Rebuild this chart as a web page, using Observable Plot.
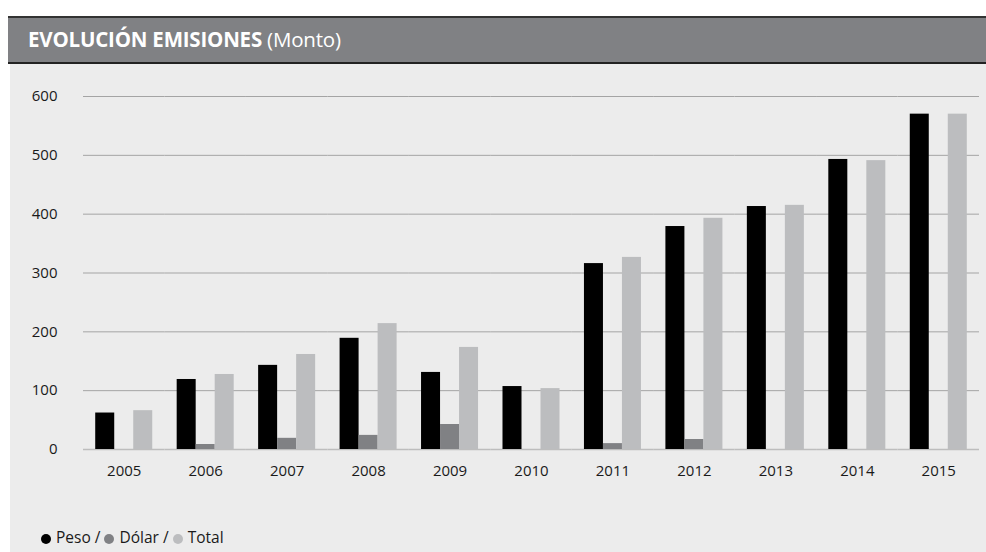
<!DOCTYPE html>
<html>
<head>
<meta charset="utf-8">
<script src="https://cdn.jsdelivr.net/npm/d3@7"></script>
<script src="https://cdn.jsdelivr.net/npm/@observablehq/plot@0.6"></script>
<style>
  html, body { margin: 0; padding: 0; background: #ffffff; }
  #wrap { position: relative; width: 986px; height: 552px; overflow: hidden; font-family: "Open Sans", sans-serif; }
  #panel { position: absolute; left: 10px; top: 63px; width: 976px; height: 489px; background: #ececec; }
  #header { position: absolute; left: 8px; top: 16px; width: 978px; height: 44px; background: #808184;
            border-top: 2px solid #333; border-bottom: 2px solid #222; }
  #title { position: absolute; left: 20px; top: 7px; color: #fff; font-size: 20.5px; white-space: nowrap; letter-spacing: -0.2px; }
  #title b { font-weight: 700; }
  #chart { position: absolute; left: 10px; top: 64px; }
  #legend { position: absolute; left: 41px; top: 526px; font-size: 15.5px; color: #1a1a1a; white-space: nowrap; }
  #legend .dot { display: inline-block; width: 10px; height: 10px; border-radius: 50%; margin-right: 5px; vertical-align: -0.5px; }
</style>
</head>
<body>
<div id="wrap">
  <div id="panel"></div>
  <div id="header"><div id="title"><b>EVOLUCIÓN EMISIONES</b> (Monto)</div></div>
  <div id="chart"></div>
  <div id="legend"></div>
</div>
<script>
const years = [2005, 2006, 2007, 2008, 2009, 2010, 2011, 2012, 2013, 2014, 2015];
const series = ["Peso", "Dólar", "Total"];
const colors = ["#000000", "#808184", "#bcbdbf"];
const peso  = [62, 119, 143, 189, 131, 107, 316, 379, 413, 493, 570];
const dolar = [0, 8.5, 19, 24, 42.5, 0, 10, 17, 0, 0, 0];
const total = [66, 127.5, 161.5, 214, 173.5, 103.5, 326.5, 393, 415, 491, 570];
const yTicks = [0, 100, 200, 300, 400, 500, 600];

const valuesBySeries = [peso, dolar, total];
const rows = [];
years.forEach((yr, i) => {
  series.forEach((s, j) => rows.push({year: yr, series: s, value: valuesBySeries[j][i]}));
});

const chart = Plot.plot({
  width: 976,
  height: 420,
  marginLeft: 73,
  marginRight: 7,
  marginTop: 32,
  marginBottom: 35,
  style: {background: "transparent", fontFamily: "Open Sans, sans-serif", fontSize: "15px", color: "#1a1a1a"},
  fx: {domain: years, padding: 0, round: false, label: null, axis: null},
  x: {domain: series, paddingInner: 0, paddingOuter: 0.643, round: false, axis: null},
  y: {domain: [0, 600], axis: null},
  color: {domain: series, range: colors},
  marks: [
    Plot.gridY(yTicks.filter(d => d > 0), {stroke: "#a4a4a4", strokeOpacity: 1}),
    Plot.ruleY([0], {stroke: "#bdbdbd", strokeWidth: 1.5}),
    Plot.barY(rows, {fx: "year", x: "series", y: "value", fill: "series", inset: 0}),
    Plot.axisFx({anchor: "bottom", tickSize: 0, tickPadding: 16, label: null, fontSize: 15, tickFormat: d => String(d)}),
    Plot.axisY(yTicks, {tickSize: 0, tickPadding: 26, label: null, fontSize: 15})
  ]
});
document.getElementById("chart").appendChild(chart);

const legend = document.getElementById("legend");
series.forEach((s, j) => {
  const dot = document.createElement("span");
  dot.className = "dot";
  dot.style.background = colors[j];
  legend.appendChild(dot);
  legend.appendChild(document.createTextNode(s + (j < series.length - 1 ? " / " : "")));
});
</script>
</body>
</html>
